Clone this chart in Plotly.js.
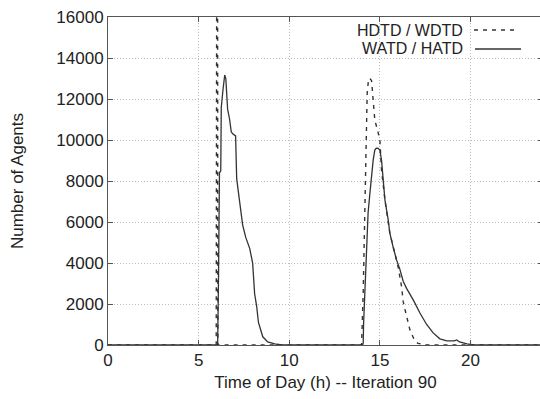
<!DOCTYPE html>
<html>
<head>
<meta charset="utf-8">
<script src="https://cdn.plot.ly/plotly-3.0.1.min.js"></script>
<style>
  html, body { margin: 0; padding: 0; background: #fff; overflow: hidden; }
  #wrap { width: 540px; height: 399px; overflow: hidden; }
  #chart { width: 544px; height: 399px; }
</style>
</head>
<body>
<div id="wrap"><div id="chart"></div></div>
<script>
// Series names
const seriesNames = ["HDTD / WDTD", "WATD / HATD"];

// HDTD / WDTD (dashed)
const dashedHours = [0, 5.97, 6.0, 6.03, 6.06, 13.99, 14.08, 14.17, 14.27, 14.30, 14.38, 14.45, 14.54, 14.63, 14.72, 14.91, 15.0, 15.09, 15.28, 15.55, 15.83, 16.01, 16.20, 16.29, 16.38, 16.48, 16.66, 16.90, 17.10, 17.40, 17.60, 24];
const dashedAgents = [0, 0, 20000, 40000, 0, 0, 2540, 6590, 9850, 12290, 13000, 13000, 12900, 11950, 10980, 10340, 10000, 8540, 7070, 5460, 4490, 3800, 2830, 2100, 1750, 1370, 730, 250, 80, 30, 0, 0];

// WATD / HATD (solid)
const solidHours = [0, 6.05, 6.10, 6.15, 6.22, 6.25, 6.35, 6.44, 6.50, 6.53, 6.60, 6.71, 6.80, 6.88, 7.04, 7.10, 7.20, 7.27, 7.43, 7.60, 7.82, 7.98, 8.09, 8.20, 8.30, 8.54, 8.81, 9.20, 9.60, 14.05, 14.08, 14.10, 14.23, 14.35, 14.45, 14.54, 14.63, 14.72, 14.80, 14.91, 15.0, 15.09, 15.18, 15.28, 15.46, 15.55, 15.73, 15.92, 16.10, 16.29, 16.48, 16.84, 17.21, 17.58, 17.94, 18.31, 18.69, 19.10, 19.24, 19.40, 19.80, 20.20, 24];
const solidAgents = [0, 0, 3500, 8400, 8500, 11600, 12500, 13170, 13000, 12400, 11500, 11000, 10400, 10300, 10200, 8100, 7400, 7000, 5850, 5250, 4700, 4000, 2500, 1900, 1100, 400, 150, 50, 0, 0, 100, 1000, 4150, 6440, 7410, 8440, 9020, 9510, 9600, 9590, 9500, 9020, 8050, 7070, 6100, 5460, 4780, 4150, 3700, 3100, 2750, 2200, 1560, 1000, 590, 300, 200, 200, 250, 150, 50, 0, 0];

// Axis ticks
const xTicks = [0, 5, 10, 15, 20];
const yTicks = [0, 2000, 4000, 6000, 8000, 10000, 12000, 14000, 16000];

const FONT = "Liberation Sans, Arial, Helvetica, sans-serif";
const TXT = "#222";
const FS = 17;
const LFS = 16;
const FIGW = 544, FIGH = 399;
const M = {l: 108, r: 1, t: 17, b: 54};
const W = FIGW - M.l - M.r;
const H = FIGH - M.t - M.b;
const px = v => (v - M.l) / W;
const py = v => 1 - (v - M.t) / H;

const traces = [
  {x: dashedHours, y: dashedAgents, name: seriesNames[0], type: "scatter", mode: "lines",
   line: {color: "#333", width: 1.4, dash: "4px,5px"}, showlegend: false},
  {x: solidHours, y: solidAgents, name: seriesNames[1], type: "scatter", mode: "lines",
   line: {color: "#333", width: 1.3}, showlegend: false}
];

const axisCommon = {
  showline: true, linecolor: "#555", linewidth: 1, mirror: "ticks",
  ticks: "inside", ticklen: 5, tickcolor: "#555", tickwidth: 1,
  showgrid: true, gridcolor: "#bdbdbd", griddash: "1px,2px", gridwidth: 1,
  zeroline: false, tickfont: {family: FONT, size: FS, color: TXT}
};

const layout = {
  width: FIGW, height: FIGH,
  margin: M,
  paper_bgcolor: "#fff", plot_bgcolor: "#fff",
  xaxis: Object.assign({}, axisCommon, {
    range: [0, 24], tickmode: "array", tickvals: xTicks, ticktext: xTicks.map(String),
    title: {text: "Time of Day (h) -- Iteration 90", font: {family: FONT, size: FS, color: TXT}, standoff: 6}
  }),
  yaxis: Object.assign({}, axisCommon, {
    range: [0, 16000], tickmode: "array", tickvals: yTicks, ticktext: yTicks.map(String),
    title: {text: "Number of Agents", font: {family: FONT, size: FS, color: TXT}, standoff: 28}
  }),
  showlegend: false,
  annotations: [
    {xref: "paper", yref: "paper", x: px(464), y: py(30), xanchor: "right", yanchor: "middle",
     text: seriesNames[0], showarrow: false, borderpad: 0, font: {family: FONT, size: LFS, color: TXT}},
    {xref: "paper", yref: "paper", x: px(464), y: py(49), xanchor: "right", yanchor: "middle",
     text: seriesNames[1], showarrow: false, borderpad: 0, font: {family: FONT, size: LFS, color: TXT}}
  ],
  shapes: [
    {type: "line", xref: "paper", yref: "paper", x0: px(474), x1: px(518), y0: py(30), y1: py(30),
     line: {color: "#333", width: 1.4, dash: "4px,5px"}},
    {type: "line", xref: "paper", yref: "paper", x0: px(475), x1: px(521), y0: py(49), y1: py(49),
     line: {color: "#333", width: 1.3}}
  ]
};

Plotly.newPlot("chart", traces, layout, {staticPlot: true, displayModeBar: false});
</script>
</body>
</html>
